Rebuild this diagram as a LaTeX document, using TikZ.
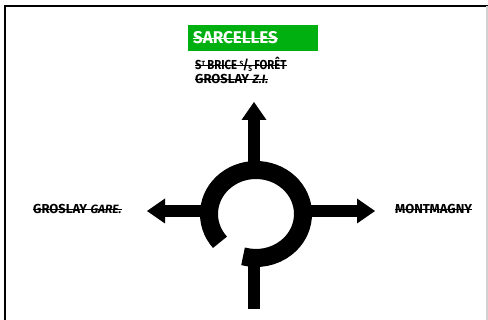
\documentclass[tikz,border=0pt]{standalone}
\usepackage{fontspec}
\setmainfont{Fira Sans}
\usetikzlibrary{arrows.meta,positioning}
\definecolor{signgreen}{RGB}{0,176,16}
\newcommand{\raised}[1]{\raisebox{3.6pt}{\fontsize{7.5}{7.5}\selectfont #1}}
\newcommand{\lowered}[1]{\raisebox{-1.5pt}{\fontsize{7.5}{7.5}\selectfont #1}}

\begin{document}
\begin{tikzpicture}[x=1pt,y=-1pt,
    sign/.style={font=\bfseries\fontsize{13}{13}\selectfont, inner sep=0pt, anchor=base west},
    small/.style={font=\bfseries\itshape\fontsize{12}{12}\selectfont},
    strike/.style={line width=0.8pt},
    road/.style={line width=12.5pt},
    exit/.style={road, -{Triangle[width=25pt,length=18pt,line width=0pt]}}]
  \useasboundingbox (0,0) rectangle (488,320);

  % frame of the sign
  \draw[line width=2.5pt] (5,320) -- (5,6) -- (488,6);
  \draw[gray!35, line width=1.5pt] (487,6) -- (487,320);

  % the roundabout
  \coordinate (O) at (256,214);
  \draw[road, line width=18pt] (O) ++(140:47 and 44) arc[start angle=140, end angle=466, x radius=47, y radius=44];

  \coordinate (N0) at (254,168);
  \coordinate (N1) at (254,102);
  \coordinate (W0) at (206,211);
  \coordinate (W1) at (147,211);
  \coordinate (E0) at (306,211);
  \coordinate (E1) at (375,211);
  \coordinate (S0) at (254,255);
  \coordinate (S1) at (254,309);
  \draw[exit] (N0) -- (N1);
  \draw[exit] (W0) -- (W1);
  \draw[exit] (E0) -- (E1);
  \draw[road] (S0) -- (S1);

  % destinations
  \fill[signgreen] (188,25) rectangle (318,51);
  \node[sign, text=white, font=\bfseries\fontsize{17}{17}\selectfont] (sarcelles) at (193,44) {SARCELLES};
  \node[sign] (brice) at (195,70) {\scalebox{0.87}[1]{S\raised{T}\hspace{2.5pt}BRICE\hspace{3pt}\raised{S}\kern-0.5pt/\kern-0.5pt\lowered{S}\hspace{2.5pt}FORÊT}};
  \node[sign] (groslayzi) at (195,84) {GROSLAY};
  \node[sign] (gare) at (33,214) {GROSLAY};
  \node[sign] (montmagny) at (395,214) {MONTMAGNY};
  \node[sign, small, right=3pt of groslayzi.base east, anchor=base west] (zi) {Z.I.};
  \node[sign, small, right=3pt of gare.base east, anchor=base west] (garelbl) {GARE.};

  % the line through each name
  \draw[strike, white] ([yshift=6pt]sarcelles.base west) -- ([yshift=6pt]sarcelles.base east);
  \foreach \n in {brice,montmagny}
    \draw[strike] ([yshift=4.5pt]\n.base west) -- ([yshift=4.5pt]\n.base east);
  \draw[strike] ([yshift=4.5pt]groslayzi.base west) -- ([yshift=4.5pt]zi.base east);
  \draw[strike] ([yshift=4.5pt]gare.base west) -- ([yshift=4.5pt]garelbl.base east);
\end{tikzpicture}
\end{document}
